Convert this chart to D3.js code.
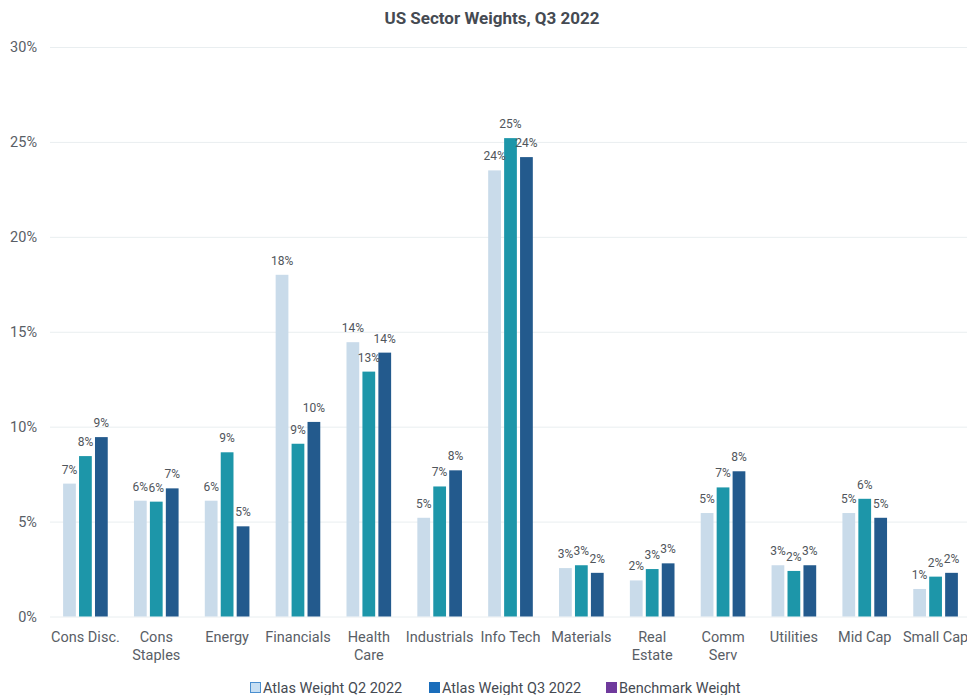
<!DOCTYPE html>
<html>
<head>
<meta charset="utf-8">
<script src="https://cdn.jsdelivr.net/npm/d3@7/dist/d3.min.js"></script>
<style>
  html, body { margin: 0; padding: 0; background: #fff; }
  svg { display: block; font-family: Roboto, "Noto Sans", sans-serif; }
</style>
</head>
<body>
<svg id="chart" width="967" height="695"></svg>
<script>
const categories = ["Cons Disc.", "Cons Staples", "Energy", "Financials", "Health Care", "Industrials", "Info Tech", "Materials", "Real Estate", "Comm Serv", "Utilities", "Mid Cap", "Small Cap"];
const tickLabels = [["Cons Disc."], ["Cons", "Staples"], ["Energy"], ["Financials"], ["Health", "Care"], ["Industrials"], ["Info Tech"], ["Materials"], ["Real", "Estate"], ["Comm", "Serv"], ["Utilities"], ["Mid Cap"], ["Small Cap"]];
const seriesNames = ["Atlas Weight Q2 2022", "Atlas Weight Q3 2022", "Benchmark Weight"];
const seriesQ2 = [7.0, 6.1, 6.1, 18.0, 14.45, 5.2, 23.5, 2.55, 1.9, 5.45, 2.7, 5.45, 1.45];
const seriesQ3 = [8.45, 6.05, 8.65, 9.1, 12.9, 6.85, 25.2, 2.7, 2.5, 6.8, 2.4, 6.2, 2.1];
const seriesBench = [9.45, 6.75, 4.75, 10.25, 13.9, 7.7, 24.2, 2.3, 2.8, 7.65, 2.7, 5.2, 2.3];
const yTicks = [0, 5, 10, 15, 20, 25, 30];

const barColors = ["#c9dbea", "#1d96a9", "#235a8d"];
const legendFill = ["#c7dff3", "#1a6dbb", "#6f3a9c"];
const legendStroke = ["#4a8fd0", "#1a6dbb", "#6f3a9c"];

const allSeries = [seriesQ2, seriesQ3, seriesBench];
const data = categories.map((c, i) => ({ cat: c, vals: allSeries.map((s, k) => ({ key: seriesNames[k], k, v: s[i] })) }));

const svg = d3.select("#chart");

const y = d3.scaleLinear().domain([0, 30]).range([616.5, 47]);
const x0 = d3.scaleBand().domain(categories).range([50, 971]).paddingInner(0.37).paddingOuter(0.185);
const x1 = d3.scaleBand().domain(seriesNames).range([0, x0.bandwidth()]).paddingInner(0.2);

// title
svg.append("text").attr("x", 492).attr("y", 24).attr("text-anchor", "middle")
  .attr("font-size", 17).attr("font-weight", "bold").attr("fill", "#454a52")
  .text("US Sector Weights, Q3 2022");

// y axis grid + labels
const yAxis = d3.axisLeft(y).tickValues(yTicks).tickFormat(d => d + "%").tickSize(-(967 - 50)).tickPadding(13);
const gy = svg.append("g").attr("transform", "translate(50,0)").call(yAxis);
gy.select(".domain").remove();
gy.selectAll(".tick line").attr("stroke", "#e9eef0").attr("stroke-width", 1);
gy.selectAll(".tick text").attr("font-size", 14.5).attr("fill", "#595e66").attr("font-family", "Roboto, sans-serif");

// x axis labels
const xAxis = d3.axisBottom(x0).tickSize(0).tickFormat("");
const gx = svg.append("g").attr("transform", "translate(0,616.5)").call(xAxis);
gx.select(".domain").remove();
gx.selectAll(".tick").each(function(d, i) {
  const t = d3.select(this).append("text").attr("text-anchor", "middle").attr("font-size", 14.5)
    .attr("fill", "#595e66").attr("font-family", "Roboto, sans-serif");
  tickLabels[i].forEach((line, j) => {
    t.append("tspan").attr("x", 0).attr("y", 25.5 + j * 18).text(line);
  });
});

// bars
const groups = svg.append("g").selectAll("g").data(data).join("g")
  .attr("transform", d => `translate(${x0(d.cat)},0)`);
groups.selectAll("rect").data(d => d.vals).join("rect")
  .attr("x", d => x1(d.key))
  .attr("width", x1.bandwidth())
  .attr("y", d => y(d.v))
  .attr("height", d => y(0) - y(d.v))
  .attr("fill", d => barColors[d.k]);
groups.selectAll("text").data(d => d.vals).join("text")
  .attr("x", d => x1(d.key) + x1.bandwidth() / 2)
  .attr("y", d => y(d.v) - 10)
  .attr("text-anchor", "middle")
  .attr("font-size", 12)
  .attr("fill", "#50555b")
  .text(d => Math.round(d.v) + "%");

// legend
const legendX = [250, 429, 606];
const lg = svg.append("g").selectAll("g").data(seriesNames).join("g")
  .attr("transform", (d, i) => `translate(${legendX[i]},682)`);
lg.append("rect").attr("x", 0.5).attr("y", 0.5).attr("width", 10).attr("height", 10)
  .attr("fill", (d, i) => legendFill[i]).attr("stroke", (d, i) => legendStroke[i]).attr("stroke-width", 1);
lg.append("text").attr("x", 13).attr("y", 10.5).attr("font-size", 14.5).attr("fill", "#454a52")
  .text(d => d);
</script>
</body>
</html>
